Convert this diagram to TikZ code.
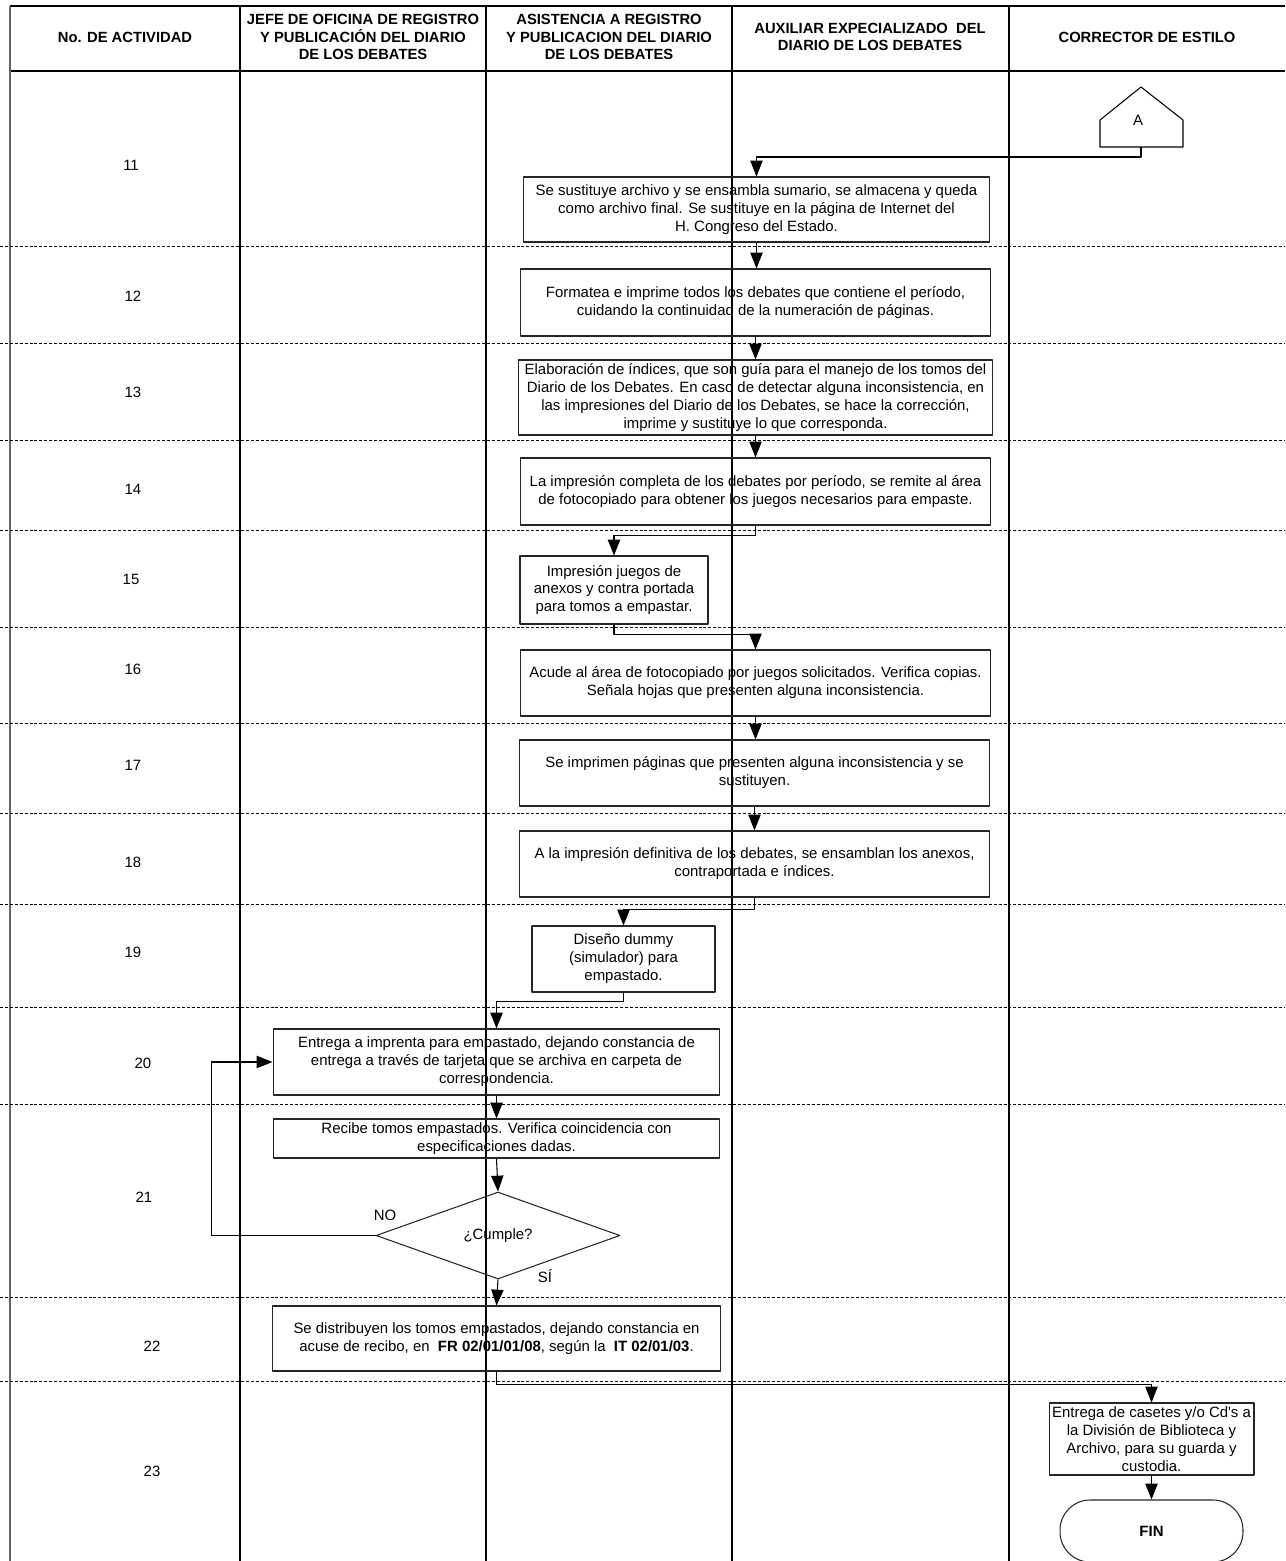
\documentclass[tikz,border=0pt]{standalone}
\usepackage{fontspec}
\setmainfont{Liberation Sans}
\newfontfamily\arialfont{Liberation Sans}
\usetikzlibrary{arrows.meta,shapes.geometric}

\begin{document}
\begin{tikzpicture}[x=0.02cm,y=-0.02cm,line join=round,>={Triangle[length=9pt,width=7pt]},font=\arialfont\fontsize{8.5}{10.2}\selectfont]
\tikzset{caja/.style={draw=black!85,line width=0.6pt,align=center,inner sep=1pt},
  flecha/.style={->,line width=0.6pt},
  carril/.style={line width=0.9pt},
  fila/.style={dash pattern=on 1.7pt off 1.1pt,line width=0.5pt},
  titulo/.style={font=\arialfont\fontsize{8.4}{10}\selectfont\bfseries,align=center}}
\useasboundingbox (0,0) rectangle (1285,1561);

% encabezado y carriles
\draw[carril] (10,6) -- (1285,6);
\draw[carril] (10,71) -- (1285,71);
\foreach \x in {240,486,732,1009}
  \draw[carril] (\x,6) -- (\x,1561);
\draw[carril,black!60,line width=1.2pt] (10,6) -- (10,1561);
\node[titulo] (tNum) at (125,37) {No. DE ACTIVIDAD};
\node[titulo] (tJefe) at (363,37) {JEFE DE OFICINA DE REGISTRO\\Y PUBLICACIÓN DEL DIARIO\\DE LOS DEBATES};
\node[titulo] (tAsis) at (609,37) {ASISTENCIA A REGISTRO\\Y PUBLICACION DEL DIARIO\\DE LOS DEBATES};
\node[titulo] (tAux) at (870,37) {AUXILIAR EXPECIALIZADO\ \ DEL\\DIARIO DE LOS DEBATES};
\node[titulo] (tCorr) at (1147,37) {CORRECTOR DE ESTILO};

% filas
\foreach \y in {246,343,440,530,627,723,813,904,1007,1104,1297,1381}
  \draw[fila] (0,\y) -- (1285,\y);
\foreach \n/\px/\py in {11/131/165,12/133/296,13/133/392,14/133/489,15/131/579,16/133/669,17/133/765,18/133/862,19/133/952,20/143/1063,21/144/1197,22/152/1346,23/152/1471}
  \node (num\n) at (\px,\py) {\n};

% conector A
\draw[line width=0.6pt] (1100,147) -- (1100,120) -- (1141,87) -- (1183,120) -- (1183,147) -- cycle;
\node (letraA) at (1138,120) {A};
\coordinate (conA) at (1141,147);

% actividades
\node[caja,minimum width=9.34cm,minimum height=1.3cm] (caja11) at (756.5,209.5) {Se sustituye archivo y se ensambla sumario, se almacena y queda\\como archivo final. Se sustituye en la página de Internet del\\H. Congreso del Estado.};
\node[caja,minimum width=9.42cm,minimum height=1.34cm] (caja12) at (755.5,302.5) {Formatea e imprime todos los debates que contiene el período,\\cuidando la continuidad de la numeración de páginas.};
\node[caja,minimum width=9.5cm,minimum height=1.5cm] (caja13) at (755.5,397.5) {Elaboración de índices, que son guía para el manejo de los tomos del\\Diario de los Debates. En caso de detectar alguna inconsistencia, en\\las impresiones del Diario de los Debates, se hace la corrección,\\imprime y sustituye lo que corresponda.};
\node[caja,minimum width=9.42cm,minimum height=1.34cm] (caja14) at (755.5,491.5) {La impresión completa de los debates por período, se remite al área\\de fotocopiado para obtener los juegos necesarios para empaste.};
\node[caja,minimum width=3.76cm,minimum height=1.36cm] (caja15) at (614,590) {Impresión juegos de\\anexos y contra portada\\para tomos a empastar.};
\node[caja,minimum width=9.42cm,minimum height=1.32cm] (caja16) at (755.5,683) {Acude al área de fotocopiado por juegos solicitados. Verifica copias.\\Señala hojas que presenten alguna inconsistencia.};
\node[caja,minimum width=9.42cm,minimum height=1.32cm] (caja17) at (754.5,773) {Se imprimen páginas que presenten alguna inconsistencia y se\\sustituyen.};
\node[caja,minimum width=9.42cm,minimum height=1.32cm] (caja18) at (754.5,864) {A la impresión definitiva de los debates, se ensamblan los anexos,\\contraportada e índices.};
\node[caja,minimum width=3.66cm,minimum height=1.32cm] (caja19) at (623.5,959) {Diseño dummy\\(simulador) para\\empastado.};
\node[caja,minimum width=8.94cm,minimum height=1.32cm] (caja20) at (496.5,1062) {Entrega a imprenta para empastado, dejando constancia de\\entrega a través de tarjeta que se archiva en carpeta de\\correspondencia.};
\node[caja,minimum width=8.94cm,minimum height=0.78cm] (caja21) at (496.5,1138.5) {Recibe tomos empastados. Verifica coincidencia con\\especificaciones dadas.};
\node[diamond,draw=black!85,line width=0.6pt,minimum width=4.88cm,minimum height=1.74cm,inner sep=0pt] (cumple) at (498,1235.5) {¿Cumple?};
\node (etqNo) at (385,1215) {NO};
\node (etqSi) at (545,1276) {SÍ};
\node[caja,minimum width=8.98cm,minimum height=1.3cm] (caja22) at (496.5,1338.5) {Se distribuyen los tomos empastados, dejando constancia en\\acuse de recibo, en\ \ \textbf{FR 02/01/01/08}, según la\ \ \textbf{IT 02/01/03}.};
\node[caja,minimum width=4.1cm,minimum height=1.44cm] (caja23) at (1151.5,1439) {Entrega de casetes y/o Cd's a\\la División de Biblioteca y\\Archivo, para su guarda y\\custodia.};
\node[draw=black!85,line width=0.6pt,rounded corners=0.6cm,minimum width=3.66cm,minimum height=1.24cm,font=\arialfont\fontsize{8.5}{10.2}\selectfont\bfseries] (fin) at (1151.5,1531) {FIN};

% conexiones
\draw[flecha] (conA) -- ++(0,10) -| (caja11.north);
\draw[flecha] (caja11.south) -- (caja11.south |- caja12.north);
\draw[flecha] (caja12.south) -- (caja12.south |- caja13.north);
\draw[flecha] (caja13.south) -- (caja13.south |- caja14.north);
\draw[flecha] (caja14.south) -- ++(0,10) -| (caja15.north);
\draw[flecha] (caja15.south) -- ++(0,10) -| (caja16.north);
\draw[flecha] (caja16.south) -- (caja16.south |- caja17.north);
\draw[flecha] (caja17.south) -- (caja17.south |- caja18.north);
\draw[flecha] (caja18.south) -- ++(0,12) -| (caja19.north);
\draw[flecha] (caja19.south) -- ++(0,9) -| (caja20.north);
\draw[flecha] (caja20.south) -- (caja21.north);
\draw[flecha] (caja21.south) -- (cumple.north);
\draw[flecha] (cumple.west) -- ++(-164,0) |- (caja20.west);
\draw[flecha] (cumple.south) -- (caja22.north);
\draw[flecha] (caja22.south) -- ++(0,13) -| (caja23.north);
\draw[flecha] (caja23.south) -- (fin.north);
\end{tikzpicture}
\end{document}
